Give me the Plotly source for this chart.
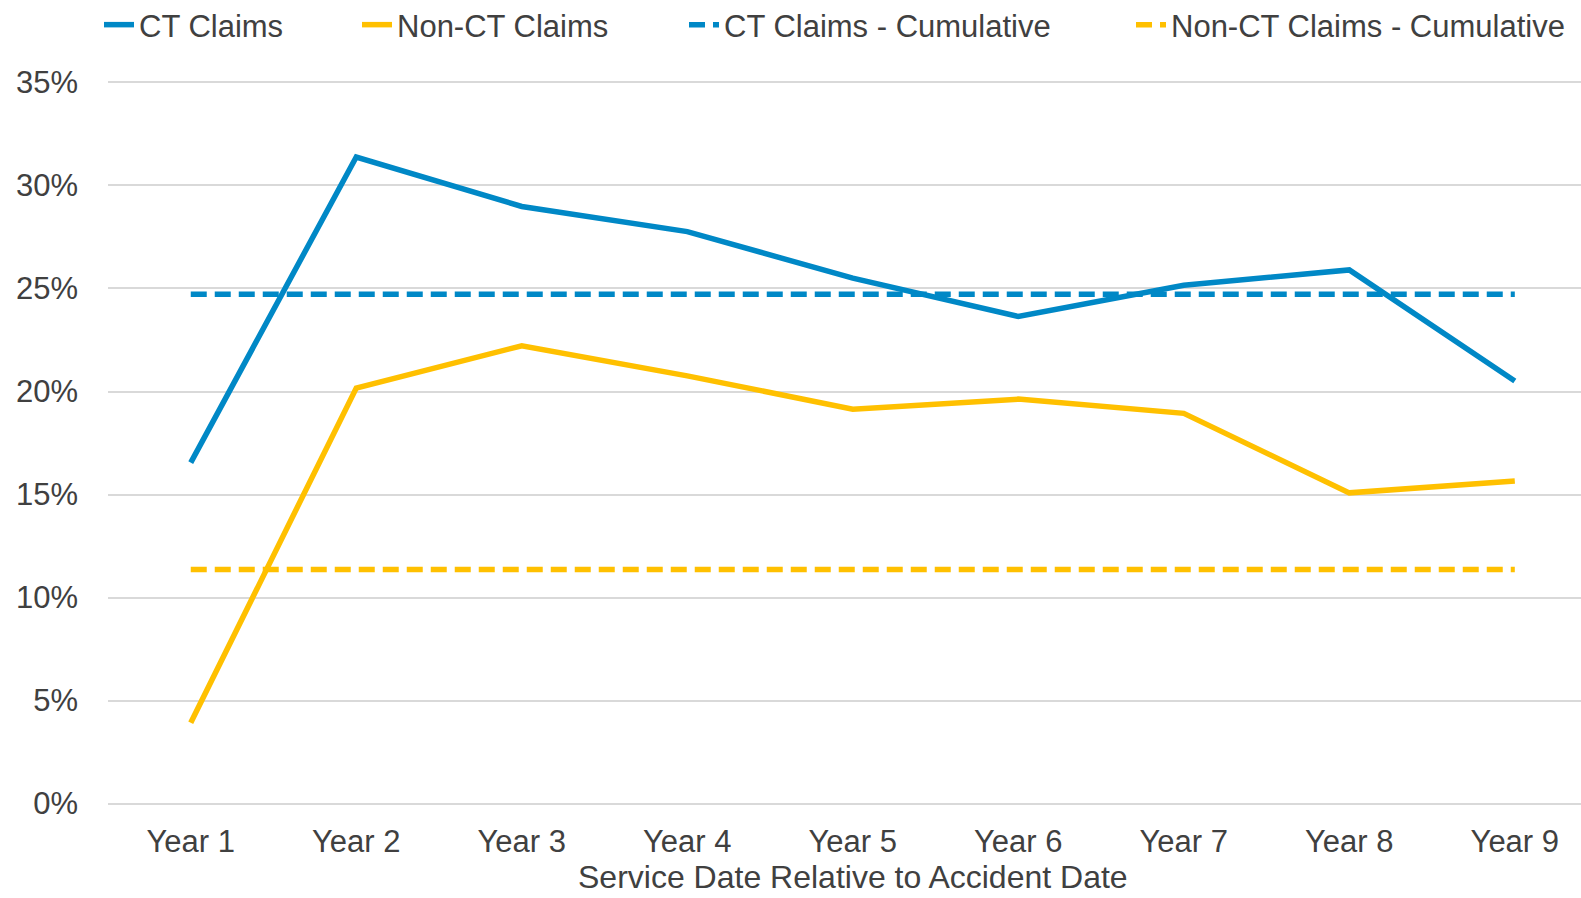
import plotly.graph_objects as go

years = ["Year 1", "Year 2", "Year 3", "Year 4", "Year 5", "Year 6", "Year 7", "Year 8", "Year 9"]
ct_claims = [0.1655, 0.3138, 0.2898, 0.2776, 0.2550, 0.2364, 0.2516, 0.2590, 0.2051]
non_ct_claims = [0.0392, 0.2017, 0.2222, 0.2076, 0.1914, 0.1963, 0.1894, 0.1508, 0.1566]
ct_cumulative = [0.2472] * 9
non_ct_cumulative = [0.1136] * 9
y_ticks = [0, 0.05, 0.10, 0.15, 0.20, 0.25, 0.30, 0.35]
x_title = "Service Date Relative to Accident Date"

BLUE = "#0088C6"
GOLD = "#FFC000"
TEXT = "#404040"
FONT = "Liberation Sans, Arial, sans-serif"
W, H = 1581, 898
ML, MR, MT, MB = 108, 0, 80, 92

fig = go.Figure()
fig.add_trace(go.Scatter(x=years, y=ct_claims, name="CT Claims", mode="lines",
                         line=dict(color=BLUE, width=5.5), legend="legend"))
fig.add_trace(go.Scatter(x=years, y=non_ct_claims, name="Non-CT Claims", mode="lines",
                         line=dict(color=GOLD, width=5.5), legend="legend2"))
fig.add_trace(go.Scatter(x=years, y=ct_cumulative, name="CT Claims - Cumulative", mode="lines",
                         line=dict(color=BLUE, width=5.5, dash="16px,8px"), legend="legend3"))
fig.add_trace(go.Scatter(x=years, y=non_ct_cumulative, name="Non-CT Claims - Cumulative", mode="lines",
                         line=dict(color=GOLD, width=5.5, dash="16px,8px"), legend="legend4"))

def leg(text_start):
    return dict(orientation="h", x=(text_start - 40) / W, xanchor="left",
                y=1 - 25 / H, yanchor="middle", xref="container", yref="container",
                font=dict(size=31, color=TEXT, family=FONT), bgcolor="rgba(0,0,0,0)",
                borderwidth=0)

plot_w = W - ML - MR
plot_h = H - MT - MB

fig.update_layout(
    width=W, height=H,
    margin=dict(l=ML, r=MR, t=MT, b=MB, autoexpand=False),
    paper_bgcolor="white", plot_bgcolor="white",
    font=dict(family=FONT, size=31, color=TEXT),
    showlegend=True,
    legend=leg(139), legend2=leg(397), legend3=leg(724), legend4=leg(1171),
    xaxis=dict(type="category", range=[-0.5, 8.4], showgrid=False, zeroline=False,
               showline=False, ticks="", tickangle=0, ticklabelstandoff=14,
               tickfont=dict(size=31, color=TEXT)),
    yaxis=dict(range=[-0.0012, 0.3512], tickvals=y_ticks, tickformat=".0%", showgrid=True,
               gridcolor="#D9D9D9", gridwidth=1.5, zeroline=False, showline=False,
               ticks="", ticklabelstandoff=29, tickfont=dict(size=31, color=TEXT)),
    annotations=[dict(text=x_title, xref="paper", yref="paper",
                      x=(853 - ML) / plot_w, y=-(877 - (H - MB)) / plot_h,
                      xanchor="center", yanchor="middle", showarrow=False,
                      font=dict(size=32, color=TEXT, family=FONT))],
)

fig.write_html("out.html", config={"displayModeBar": False},
               post_script="document.body.style.margin='0px';document.body.style.overflow='hidden';")
